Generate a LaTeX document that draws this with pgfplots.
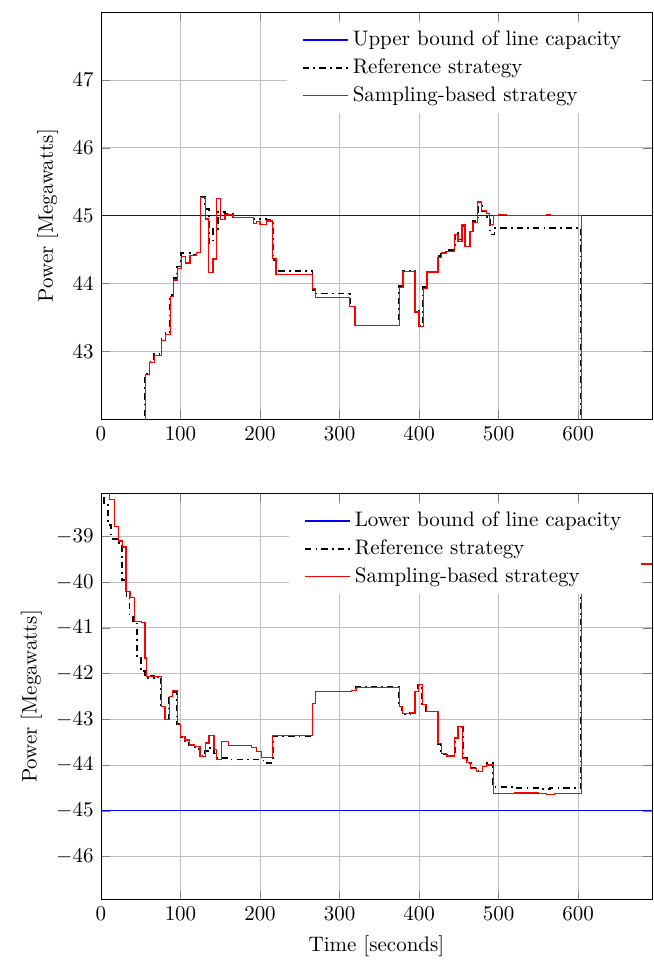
\documentclass[border=0pt]{standalone}
\usepackage{pgfplots}
\pgfplotsset{compat=1.18}
\definecolor{bndblue}{RGB}{0,0,255}
\definecolor{samred}{RGB}{255,0,0}
\pgfplotsset{
  common/.style={
    scale only axis, width=262.4pt, height=193.8pt,
    xmin=0, xmax=693,
    xtick={0,100,...,600},
    grid=major,
    ylabel={Power [Megawatts]},
    legend style={draw=none, fill=white, at={(0.98,0.975)}, anchor=north east, row sep=0.7pt, inner xsep=7.2pt},
    legend cell align=left,
    legend image code/.code={\draw[##1] plot coordinates {(0cm,0cm) (0.75cm,0cm)};},
  },
  bndstyle/.style={color=bndblue, line width=0.6pt, mark=none},
  refstyle/.style={color=black, line width=0.8pt, dash pattern=on 3pt off 2pt on 0.8pt off 2pt, const plot, mark=none},
  samstyle/.style={color=samred, line width=0.6pt, const plot, mark=none},
}
\begin{document}
\begin{tikzpicture}
% ---------------- top ----------------
\begin{axis}[common, at={(0,229pt)}, anchor=south west,
  ymin=42, ymax=48, ytick={43,...,47}]
\addplot[bndstyle] coordinates {(0,45) (693,45)};
\addlegendentry{Upper bound of line capacity}
\addplot[refstyle] coordinates {
(0,41)(55,42.66)(61,42.85)(67,42.96)(76,43.18)(81,43.27)(87,43.83)(91,44.08)(96,44.25)(101,44.45)(112,44.42)(120,44.47)(125,45.27)(131,45.1)(136,44.6)(141,44.8)(147,45.05)(156,45.03)(166,44.97)(183,44.97)(192,44.95)(200,44.95)(208,44.94)(216,44.35)(220,44.18)(266,43.9)(270,43.85)(313,43.66)(319,43.38)(375,43.96)(380,44.19)(395,43.6)(400,43.38)(405,43.95)(410,44.17)(424,44.4)(428,44.46)(435,44.49)(445,44.75)(449,44.65)(454,44.85)(458,44.6)(464,44.78)(468,44.92)(474,45.15)(479,45.07)(485,44.98)(489,44.72)(495,44.82)(604,40)(693,40)};
\addlegendentry{Reference strategy}
\addplot[samstyle] coordinates {
(0,41)(56,42.66)(61,42.83)(67,42.94)(76,43.16)(81,43.25)(87,43.81)(91,44.05)(96,44.22)(101.5,44.40)(106,44.30)(112,44.41)(120,44.46)(125.5,45.27)(131,44.95)(135.5,44.16)(141,44.36)(145.5,45.25)(150.5,44.94)(156,45.02)(166,44.97)(183,44.97)(192,44.88)(196,44.91)(200,44.87)(208,44.92)(216,44.37)(220,44.13)(266,43.93)(270,43.79)(313,43.66)(319.5,43.38)(375,43.94)(380,44.18)(395,43.58)(400,43.36)(405.5,43.93)(410,44.17)(424,44.38)(428.5,44.45)(435,44.47)(445,44.72)(449,44.62)(454,44.87)(458,44.54)(464,44.77)(468,44.9)(474,45.2)(479,45.08)(485,45.03)(489,44.87)(494,45.0)(500,45.02)(510,45.0)(560,45.02)(565,45.0)(604,40)(693,40)};
\addlegendentry{Sampling-based strategy}
\end{axis}
% ---------------- bottom ----------------
\begin{axis}[common, at={(0,0)}, anchor=south west,
  ymin=-46.95, ymax=-38.05, ytick={-46,...,-39},
  xlabel={Time [seconds]}]
\addplot[bndstyle] coordinates {(0,-45) (693,-45)};
\addlegendentry{Lower bound of line capacity}
\addplot[refstyle] coordinates {
(0,-37.5)(4,-38.3)(9,-38.75)(13,-39.05)(20,-39.15)(26,-39.95)(32,-40.3)(36,-40.75)(40,-40.85)(45,-41.65)(50,-41.95)(55,-42.1)(60,-42.05)(67,-42.1)(72,-42.05)(75,-42.7)(80,-43.0)(85,-42.5)(90,-42.4)(95,-43.1)(100,-43.4)(105,-43.47)(110,-43.57)(118,-43.65)(124,-43.8)(131,-43.7)(137,-43.62)(142,-43.75)(146,-43.85)(160,-43.88)(200,-43.9)(208,-43.95)(216,-43.36)(266,-42.66)(270,-42.39)(315,-42.37)(321,-42.30)(375,-42.72)(379,-42.88)(389,-42.86)(395,-42.4)(399,-42.25)(404,-42.7)(409,-42.83)(424,-43.55)(428,-43.77)(435,-43.80)(445,-43.42)(449,-43.17)(455,-43.85)(460,-43.95)(465,-44.07)(472,-44.12)(480,-44.03)(485,-43.95)(493,-44.48)(520,-44.5)(550,-44.52)(565,-44.5)(604,-39.6)(693,-39.6)};
\addlegendentry{Reference strategy}
\addplot[samstyle] coordinates {
(0,-37.5)(11,-38.19)(17,-38.79)(22,-39.10)(27,-39.23)(31.5,-40.20)(36.5,-40.33)(42,-40.86)(51,-40.89)(55.5,-41.66)(57.5,-42.06)(76,-42.72)(80.5,-43.0)(86,-42.50)(90,-42.37)(96,-43.12)(100,-43.37)(105.5,-43.45)(111,-43.56)(118,-43.6)(124.5,-43.81)(131,-43.52)(136,-43.36)(142,-43.66)(145.5,-43.88)(152,-43.48)(160,-43.57)(189.5,-43.62)(196,-43.7)(202,-43.83)(216,-43.36)(266,-42.66)(270,-42.39)(315.5,-42.37)(321,-42.30)(375,-42.72)(379.5,-42.88)(389,-42.86)(395,-42.39)(399,-42.24)(404,-42.68)(409,-42.83)(424,-43.53)(428.5,-43.75)(435,-43.80)(445,-43.41)(449,-43.15)(455,-43.85)(460,-43.95)(465,-44.07)(472.5,-44.14)(480,-44.04)(485,-44.0)(493.5,-44.63)(520,-44.61)(550,-44.62)(560,-44.65)(570,-44.62)(580,-44.63)(604,-39.6)(693,-39.6)};
\addlegendentry{Sampling-based strategy}
\end{axis}
\path (-48.1pt,-31pt) rectangle (263.3pt,428.6pt);
\end{tikzpicture}
\end{document}
